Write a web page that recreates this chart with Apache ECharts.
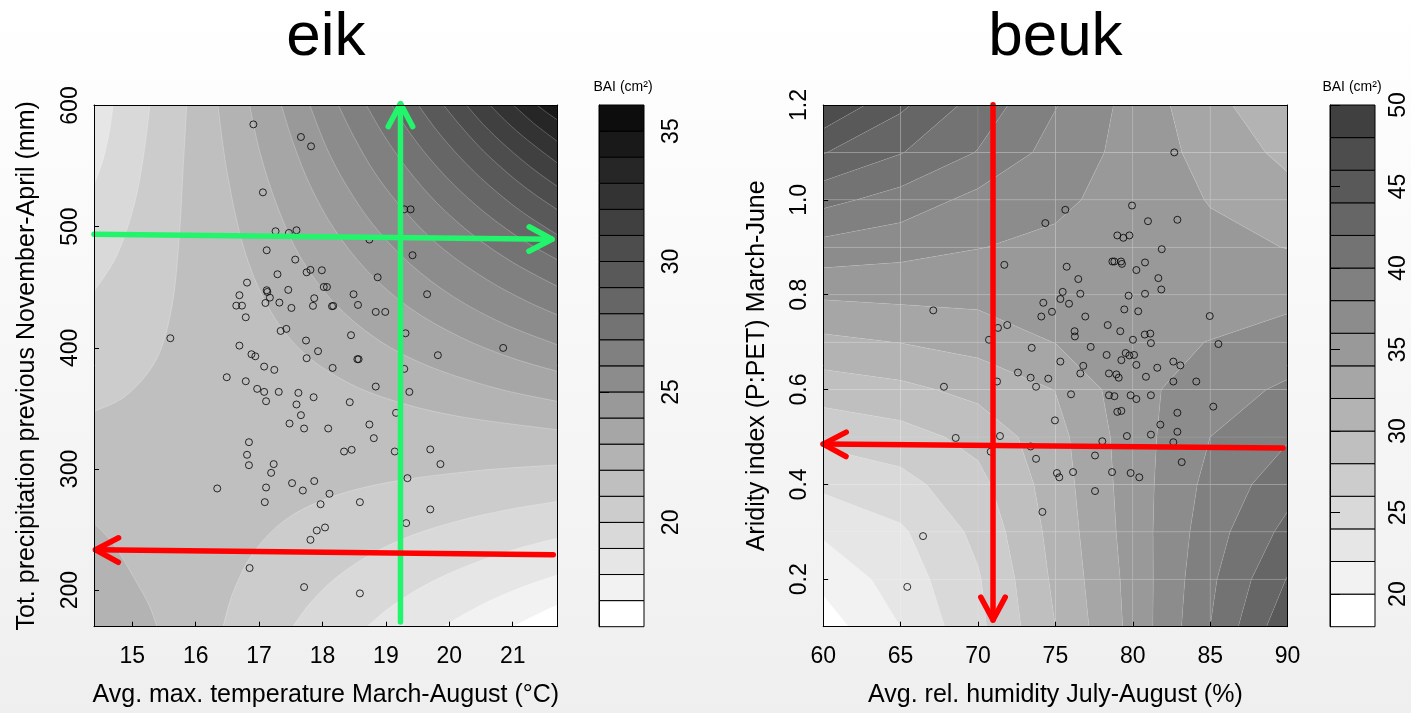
<!DOCTYPE html>
<html><head><meta charset="utf-8">
<script src="https://cdn.jsdelivr.net/npm/echarts@6/dist/echarts.min.js"></script>
<style>html,body{margin:0;padding:0;background:#fff}#c{width:1411px;height:713px}</style>
</head><body><div id="c"></div>
<script>
// ================= DATA =================
// ---- eik (oak) ----
const eikTempRange = [14.396, 21.71];
const eikPrecipRange = [169.8, 600.4];
const eikTempTicks = [15, 16, 17, 18, 19, 20, 21];
const eikPrecipTicks = [200, 300, 400, 500, 600];
const eikBandEdges = [16,17,18,19,20,21,22,23,24,25,26,27,28,29,30,31,32,33,34,35,36];
const eikColorTicks = [20, 25, 30, 35];
const eikSaddleBand = 21;

const eikTemp = [16.91,17.66,17.82,17.06,19.29,19.39,17.26,17.47,17.59,18.74,17.12,19.42,17.57,17.75,17.81,17.99,17.29,18.87,16.81,17.12,
17.13,17.46,18.02,18.07,19.65,16.69,18.49,17.17,17.87,17.10,17.32,16.64,16.73,17.51,17.85,18.15,18.17,18.56,18.84,18.99,
16.79,17.34,17.43,19.31,18.45,15.60,17.74,16.69,20.85,17.93,16.88,16.94,19.82,17.75,18.55,18.57,17.08,17.24,18.16,19.29,
16.49,16.79,18.84,16.97,17.08,17.31,17.62,19.37,17.11,17.86,18.43,17.59,19.16,17.66,17.48,17.71,18.09,18.74,18.81,16.84,
16.81,18.34,18.46,19.14,19.70,16.84,17.23,19.86,17.19,19.34,17.52,17.87,16.34,17.11,17.69,18.11,17.09,17.97,18.59,19.70,
19.32,18.04,17.91,17.81,16.85,17.71,18.59];
const eikPrecip = [584.4,574.0,566.3,528.3,514.3,514.3,496.2,494.8,497.0,489.3,480.5,476.4,472.8,462.3,464.3,464.0,460.7,458.2,453.8,447.5,
446.1,447.8,450.2,450.2,444.2,443.4,444.2,441.4,440.9,437.0,437.3,434.8,434.8,432.9,434.6,434.3,434.6,435.4,429.6,429.6,
425.2,413.9,415.6,412.0,410.4,407.9,406.0,401.8,399.9,397.2,394.7,393.0,393.9,391.4,390.6,390.6,384.5,381.8,383.4,382.6,
375.7,372.4,368.0,366.1,363.6,363.6,362.8,363.6,355.9,359.2,355.1,353.2,346.3,344.4,337.5,333.4,333.4,336.7,325.4,322.1,
311.7,314.4,315.8,314.4,316.1,303.1,304.0,304.0,296.8,292.4,288.3,290.0,283.9,284.7,282.2,279.5,272.6,270.9,272.6,266.6,
255.3,251.7,249.2,241.5,218.2,202.5,197.3];

// contour lines (painter order, outer to inner per corner lobe)
const eikLineLevel = [21,20,19, 21,20,19,18,17, 22,23,24,25,26,27,28,29,30,31,32,33,34, 22];
const eikLineLobe  = ['tl','tl','tl', 'br','br','br','br','br',
  'tr','tr','tr','tr','tr','tr','tr','tr','tr','tr','tr','tr','tr', 'bl'];
const eikLineT = [
 [15.86,15.80,15.74,15.63,15.39,14.92,14.396],
 [15.28,15.18,15.03,14.76,14.396],
 [14.70,14.63,14.53,14.396],
 [16.43,16.60,16.92,17.44,18.18,19.13,20.44,21.71],
 [17.53,17.81,18.18,18.71,19.39,20.18,20.96,21.71],
 [18.70,19.02,19.44,19.97,20.60,21.23,21.71],
 [19.90,20.18,20.54,20.96,21.33,21.71],
 [21.00,21.23,21.49,21.71],
 [16.35,16.50,16.76,17.13,17.65,18.34,19.13,20.18,21.71],
 [16.85,17.02,17.29,17.65,18.18,18.86,19.65,20.70,21.71],
 [17.35,17.55,17.81,18.18,18.71,19.39,20.18,20.96,21.71],
 [17.80,18.07,18.39,18.81,19.39,20.07,20.86,21.71],
 [18.25,18.50,18.86,19.34,19.91,20.60,21.23,21.71],
 [18.69,18.97,19.34,19.81,20.39,21.02,21.71],
 [19.09,19.39,19.76,20.18,20.65,21.17,21.71],
 [19.51,19.81,20.18,20.60,21.12,21.71],
 [19.91,20.18,20.54,20.96,21.33,21.71],
 [20.27,20.54,20.91,21.33,21.71],
 [20.64,20.91,21.23,21.71],
 [21.01,21.33,21.71],
 [21.38,21.54,21.71],
 [14.396,14.71,15.03,15.26,15.39]
];
const eikLineP = [
 [600.4,545.4,490.4,435.4,391.4,361.2,347.4],
 [600.4,559.1,517.9,476.6,446.4],
 [600.4,575.6,553.6,534.4],
 [169.8,199.6,231.6,259.0,277.6,289.8,298.6,303.4],
 [169.8,189.5,208.8,228.0,244.8,257.7,266.8,273.2],
 [169.8,183.9,198.8,213.2,226.4,236.6,242.9],
 [169.8,178.6,188.8,198.6,206.0,212.7],
 [169.8,176.1,182.8,187.9],
 [600.4,543.7,482.3,434.9,398.4,373.0,356.2,343.1,332.3],
 [600.4,560.2,516.4,475.0,437.3,407.2,385.4,367.2,355.7],
 [600.4,567.4,533.6,498.4,463.2,432.4,408.7,392.1,380.4],
 [600.4,564.5,533.0,500.9,468.9,442.0,419.8,402.4],
 [600.4,573.7,541.7,510.2,481.3,456.0,438.2,427.1],
 [600.4,575.3,547.6,519.3,492.4,469.9,450.5],
 [600.4,576.5,552.0,529.1,507.9,488.6,472.5],
 [600.4,579.0,556.7,535.3,513.2,493.1],
 [600.4,583.0,562.4,542.4,527.3,513.8],
 [600.4,584.2,565.6,547.3,533.0],
 [600.4,586.2,571.6,552.3],
 [600.4,585.4,570.1],
 [600.4,594.1,588.0],
 [255.3,237.4,209.9,188.0,169.8]
];
const eikArrowFrom = [[19.23,173.6],[14.396,493.7],[21.64,229.2]];
const eikArrowTo   = [[19.23,601.5],[21.62,489.6],[14.42,233.3]];
const eikArrowColor = ['#22f56b','#22f56b','#ff0000'];

// ---- beuk (beech) ----
const beukHumRange = [60, 90];
const beukAridRange = [0.1, 1.2];
const beukHumTicks = [60, 65, 70, 75, 80, 85, 90];
const beukAridTicks = [0.2, 0.4, 0.6, 0.8, 1.0, 1.2];
const beukBandEdges = [18,20,22,24,26,28,30,32,34,36,38,40,42,44,46,48,50];
const beukColorTicks = [20, 25, 30, 35, 40, 45, 50];
// surface values at grid nodes (rows: aridity 0.1 .. 1.2, columns: humidity 60 .. 90)
const beukHumNodes = [60, 65, 70, 75, 80, 85, 90];
const beukAridNodes = [0.1,0.2,0.3,0.4,0.5,0.6,0.7,0.8,0.9,1.0,1.1,1.2];
const beukGrid = [
 [19.0, 22.0, 25.5, 30.0, 34.6, 40.0, 45.5],
 [20.5, 22.9, 25.8, 30.4, 34.7, 39.6, 44.1],
 [22.3, 23.7, 26.5, 30.7, 34.9, 39.1, 42.6],
 [24.4, 25.3, 27.4, 31.0, 35.0, 38.6, 41.2],
 [26.5, 27.2, 28.6, 31.3, 35.1, 38.0, 39.8],
 [28.9, 29.5, 30.6, 32.05,35.3, 37.2, 38.3],
 [31.5, 32.05,32.7, 34.05,35.4, 36.05,36.9],
 [34.3, 34.5, 34.6, 34.8, 35.4, 35.0, 35.4],
 [37.3, 36.7, 36.05,35.6, 35.2, 34.5, 33.95],
 [40.6, 39.2, 37.4, 36.4, 35.2, 33.9, 32.7],
 [44.1, 42.1, 39.9, 37.2, 35.3, 33.25,31.5],
 [47.9, 44.4, 41.2, 38.1, 35.3, 32.6, 30.5]
];
const beukHum = [82.68,79.95,75.64,74.35,80.98,82.88,79.00,79.39,79.78,81.87,78.68,78.81,79.24,79.30,80.79,71.70,75.73,80.23,81.65,76.48,
81.84,75.47,76.61,80.79,75.32,79.73,75.88,74.22,67.11,79.45,80.35,74.78,74.09,76.93,84.97,78.38,71.89,71.29,76.24,76.26,
79.19,80.77,81.13,70.71,80.01,81.17,85.53,73.47,77.28,78.31,79.54,79.78,80.08,75.32,79.26,80.23,82.62,83.07,76.80,81.58,
72.58,73.40,74.54,76.61,78.46,78.94,79.09,80.85,82.62,84.10,71.23,67.80,73.75,76.01,78.46,78.81,79.86,80.23,81.17,85.20,
79.00,79.26,82.88,74.97,81.78,68.56,71.42,79.62,81.17,82.88,78.03,82.62,73.40,70.82,77.56,73.75,83.16,75.10,75.25,76.14,
78.66,79.86,80.42,77.56,74.16,66.45,65.43];
const beukArid = [1.100,0.988,0.979,0.951,0.955,0.958,0.925,0.920,0.925,0.896,0.870,0.870,0.870,0.865,0.868,0.863,0.859,0.852,0.835,0.833,
0.811,0.806,0.802,0.802,0.791,0.798,0.781,0.783,0.767,0.769,0.765,0.764,0.754,0.754,0.755,0.736,0.736,0.730,0.723,0.712,
0.723,0.716,0.718,0.705,0.705,0.698,0.696,0.688,0.690,0.673,0.677,0.672,0.673,0.659,0.662,0.652,0.659,0.651,0.650,0.646,
0.636,0.625,0.623,0.634,0.634,0.632,0.625,0.627,0.617,0.617,0.617,0.606,0.606,0.590,0.588,0.586,0.588,0.580,0.588,0.564,
0.553,0.555,0.551,0.535,0.526,0.498,0.502,0.502,0.505,0.511,0.491,0.489,0.480,0.469,0.461,0.454,0.447,0.424,0.415,0.426,
0.426,0.424,0.415,0.386,0.342,0.291,0.184];
const beukArrowFrom = [[70.97,1.2006],[89.70,0.4767]];
const beukArrowTo   = [[70.97,0.114],[60.0,0.485]];
const beukArrowColor = ['#ff0000','#ff0000'];

// ================= RENDERING =================
const FONT = '"Liberation Sans", Arial, Helvetica, sans-serif';
function gray(i){ const v = Math.round(255*(1 - i/20)); return 'rgb('+v+','+v+','+v+')'; }
const eikColor = L => gray(L - 16);
const beukColor = b => gray(b);

function smoothPath(pts){
  let d = 'M' + pts[0][0] + ',' + pts[0][1];
  for (let k = 0; k < pts.length - 1; k++){
    const p0 = pts[k-1] || pts[k], p1 = pts[k], p2 = pts[k+1], p3 = pts[k+2] || p2;
    const c1 = [p1[0] + (p2[0]-p0[0])/6, p1[1] + (p2[1]-p0[1])/6];
    const c2 = [p2[0] - (p3[0]-p1[0])/6, p2[1] - (p3[1]-p1[1])/6];
    d += ' C' + c1[0] + ',' + c1[1] + ' ' + c2[0] + ',' + c2[1] + ' ' + p2[0] + ',' + p2[1];
  }
  return d;
}

function eikContourItem(params, api){
  const idx = params.dataIndex;
  const xr = eikTempRange, yr = eikPrecipRange;
  if (idx === 0){
    const a = api.coord([xr[0], yr[1]]), b = api.coord([xr[1], yr[0]]);
    return {type:'rect', shape:{x:a[0], y:a[1], width:b[0]-a[0], height:b[1]-a[1]}, style:{fill: eikColor(eikSaddleBand)}};
  }
  const k = idx - 1;
  const lobe = eikLineLobe[k], L = eikLineLevel[k];
  const pts = eikLineT[k].map((t, j) => api.coord([t, eikLineP[k][j]]));
  const c = api.coord([lobe[1] === 'r' ? xr[1] : xr[0], lobe[0] === 't' ? yr[1] : yr[0]]);
  const band = (lobe === 'tr' || lobe === 'bl') ? L : L - 1;
  return {type:'path', shape:{pathData: smoothPath(pts) + ' L' + c[0] + ',' + c[1] + ' Z'},
          style:{fill: eikColor(band), stroke:'rgba(255,255,255,0.3)', lineWidth:0.8}};
}

function interp(a, b, L){ const t = (L - a[2])/(b[2] - a[2]); return [a[0] + t*(b[0]-a[0]), a[1] + t*(b[1]-a[1]), L]; }
function clipPoly(poly, L, above){
  const out = [];
  for (let k = 0; k < poly.length; k++){
    const a = poly[k], b = poly[(k+1) % poly.length];
    const ina = above ? a[2] >= L : a[2] <= L;
    const inb = above ? b[2] >= L : b[2] <= L;
    if (ina && inb) out.push(b);
    else if (ina && !inb) out.push(interp(a, b, L));
    else if (!ina && inb){ out.push(interp(a, b, L)); out.push(b); }
  }
  return out;
}
function beukCellItem(params, api){
  const i = api.value(0), j = api.value(1);
  const H = beukHumNodes, A = beukAridNodes, V = beukGrid;
  const poly = [[H[i],A[j],V[j][i]], [H[i+1],A[j],V[j][i+1]], [H[i+1],A[j+1],V[j+1][i+1]], [H[i],A[j+1],V[j+1][i]]];
  const children = [];
  for (let b = 0; b < beukBandEdges.length - 1; b++){
    let p = clipPoly(poly, beukBandEdges[b], true); if (p.length < 3) continue;
    p = clipPoly(p, beukBandEdges[b+1], false); if (p.length < 3) continue;
    children.push({type:'polygon', shape:{points: p.map(q => api.coord([q[0], q[1]]))},
      style:{fill: beukColor(b), stroke:'rgba(255,255,255,0.14)', lineWidth:0.6}});
  }
  return {type:'group', children};
}
function cbarItem(edges, colorFn){
  return function(params, api){
    const b = params.dataIndex;
    const p1 = api.coord([0, edges[b+1]]), p2 = api.coord([1, edges[b]]);
    return {type:'rect', shape:{x:p1[0], y:p1[1], width:p2[0]-p1[0], height:p2[1]-p1[1]},
            style:{fill: colorFn(b), stroke:'#000', lineWidth:1}};
  };
}
function arrowItem(from, to, colors){
  return function(params, api){
    const k = params.dataIndex;
    const p = api.coord(from[k]), q = api.coord(to[k]);
    const ang = Math.atan2(q[1]-p[1], q[0]-p[0]), len = 26, spr = 0.49;
    const w1 = [q[0] - len*Math.cos(ang - spr), q[1] - len*Math.sin(ang - spr)];
    const w2 = [q[0] - len*Math.cos(ang + spr), q[1] - len*Math.sin(ang + spr)];
    const st = {stroke: colors[k], lineWidth:5.5, lineCap:'round', lineJoin:'round', fill:null};
    return {type:'group', children:[
      {type:'line', shape:{x1:p[0], y1:p[1], x2:q[0], y2:q[1]}, style:st},
      {type:'polyline', shape:{points:[w1, q, w2]}, style:st}
    ]};
  };
}

const tickLabel = {color:'#000', fontSize:23, fontFamily:FONT};
function mainX(grid, range, ticks, name, fmt){
  return {gridIndex:grid, type:'value', min:range[0], max:range[1], position:'bottom', z:10,
    name:name, nameLocation:'middle', nameGap:56, nameTextStyle:{fontSize:25, color:'#000', fontFamily:FONT},
    axisLine:{show:true, onZero:false, lineStyle:{color:'#000', width:1}},
    axisTick:{show:true, inside:true, length:5, customValues:ticks, lineStyle:{color:'#000'}},
    axisLabel:Object.assign({customValues:ticks, margin:18, formatter:fmt}, tickLabel),
    splitLine:{show:false}};
}
function mainY(grid, range, ticks, name, fmt){
  return {gridIndex:grid, type:'value', min:range[0], max:range[1], position:'left', z:10,
    name:name, nameLocation:'middle', nameGap:54, nameTextStyle:{fontSize:25, color:'#000', fontFamily:FONT},
    axisLine:{show:true, onZero:false, lineStyle:{color:'#000', width:1}},
    axisTick:{show:true, inside:true, length:5, customValues:ticks, lineStyle:{color:'#000'}},
    axisLabel:Object.assign({customValues:ticks, rotate:90, margin:12, formatter:fmt}, tickLabel),
    splitLine:{show:false}};
}
function frameAxis(grid, range, pos){
  return {gridIndex:grid, type:'value', min:range[0], max:range[1], position:pos, z:10,
    axisLine:{show:true, onZero:false, lineStyle:{color:'#000', width:1}},
    axisTick:{show:false}, axisLabel:{show:false}, splitLine:{show:false}};
}
function cbarY(grid, edges, ticks, margin){
  return {gridIndex:grid, type:'value', min:edges[0], max:edges[edges.length-1], position:'right', z:10,
    axisLine:{show:true, lineStyle:{color:'#000', width:1}},
    axisTick:{show:true, inside:false, length:10, customValues:ticks, lineStyle:{color:'#000'}},
    axisLabel:Object.assign({customValues:ticks, rotate:90, margin:margin}, tickLabel),
    splitLine:{show:false}};
}
const hiddenX = g => ({gridIndex:g, type:'value', min:0, max:1, show:false});

const fmt0 = v => String(v);
const fmt1 = v => Number(v).toFixed(1);

const eikLineIdx = Array.from({length: eikLineLevel.length + 1}, (_, i) => [i]);
const beukCells = [];
for (let i = 0; i < beukHumNodes.length - 1; i++)
  for (let j = 0; j < beukAridNodes.length - 1; j++) beukCells.push([i, j]);

const option = {
  animation:false,
  backgroundColor:{type:'linear', x:0, y:0, x2:0, y2:1, colorStops:[{offset:0, color:'#ffffff'}, {offset:1, color:'#efefef'}]},
  textStyle:{fontFamily:FONT},
  grid:[
    {left:94, top:105, width:463.7, height:521.7, outerBoundsMode:'none'},
    {left:599, top:105, width:45, height:521.7, outerBoundsMode:'none'},
    {left:823.2, top:105, width:464.4, height:521.7, outerBoundsMode:'none'},
    {left:1330, top:105, width:45, height:521.7, outerBoundsMode:'none'}
  ],
  xAxis:[
    mainX(0, eikTempRange, eikTempTicks, 'Avg. max. temperature March-August (°C)', fmt0),
    frameAxis(0, eikTempRange, 'top'),
    hiddenX(1),
    mainX(2, beukHumRange, beukHumTicks, 'Avg. rel. humidity July-August (%)', fmt0),
    frameAxis(2, beukHumRange, 'top'),
    hiddenX(3)
  ],
  yAxis:[
    mainY(0, eikPrecipRange, eikPrecipTicks, 'Tot. precipitation previous November-April (mm)', fmt0),
    frameAxis(0, eikPrecipRange, 'right'),
    cbarY(1, eikBandEdges, eikColorTicks, 16),
    mainY(2, beukAridRange, beukAridTicks, 'Aridity index (P:PET) March-June', fmt1),
    frameAxis(2, beukAridRange, 'right'),
    cbarY(3, beukBandEdges, beukColorTicks, 12)
  ],
  graphic:[
    {type:'text', x:325.8, y:38, style:{text:'eik', fontSize:62, fontFamily:FONT, fill:'#000', textAlign:'center', textVerticalAlign:'middle'}},
    {type:'text', x:1055.4, y:38, style:{text:'beuk', fontSize:62, fontFamily:FONT, fill:'#000', textAlign:'center', textVerticalAlign:'middle'}},
    {type:'text', x:623, y:87, style:{text:'BAI (cm²)', fontSize:14, fontFamily:FONT, fill:'#000', textAlign:'center', textVerticalAlign:'middle'}},
    {type:'text', x:1352, y:87, style:{text:'BAI (cm²)', fontSize:14, fontFamily:FONT, fill:'#000', textAlign:'center', textVerticalAlign:'middle'}}
  ],
  series:[
    {type:'custom', xAxisIndex:0, yAxisIndex:0, z:1, clip:true, silent:true, renderItem:eikContourItem, data:eikLineIdx},
    {type:'scatter', xAxisIndex:0, yAxisIndex:0, z:3, silent:true, symbol:'circle', symbolSize:7,
      itemStyle:{color:'rgba(0,0,0,0)', borderColor:'#000', borderWidth:1},
      data:eikTemp.map((t, i) => [t, eikPrecip[i]])},
    {type:'custom', xAxisIndex:0, yAxisIndex:0, z:4, silent:true, renderItem:arrowItem(eikArrowFrom, eikArrowTo, eikArrowColor), data:eikArrowFrom.map((p,i)=>[i])},
    {type:'custom', xAxisIndex:2, yAxisIndex:2, z:1, silent:true, renderItem:cbarItem(eikBandEdges, b => gray(b)), data:eikBandEdges.slice(1).map((e,i)=>[i])},

    {type:'custom', xAxisIndex:3, yAxisIndex:3, z:1, clip:true, silent:true, renderItem:beukCellItem, data:beukCells},
    {type:'scatter', xAxisIndex:3, yAxisIndex:3, z:3, silent:true, symbol:'circle', symbolSize:7,
      itemStyle:{color:'rgba(0,0,0,0)', borderColor:'#000', borderWidth:1},
      data:beukHum.map((h, i) => [h, beukArid[i]])},
    {type:'custom', xAxisIndex:3, yAxisIndex:3, z:4, silent:true, renderItem:arrowItem(beukArrowFrom, beukArrowTo, beukArrowColor), data:beukArrowFrom.map((p,i)=>[i])},
    {type:'custom', xAxisIndex:5, yAxisIndex:5, z:1, silent:true, renderItem:cbarItem(beukBandEdges, beukColor), data:beukBandEdges.slice(1).map((e,i)=>[i])}
  ]
};
const chart = echarts.init(document.getElementById('c'), null, {renderer:'canvas'});
chart.setOption(option);
</script></body></html>
